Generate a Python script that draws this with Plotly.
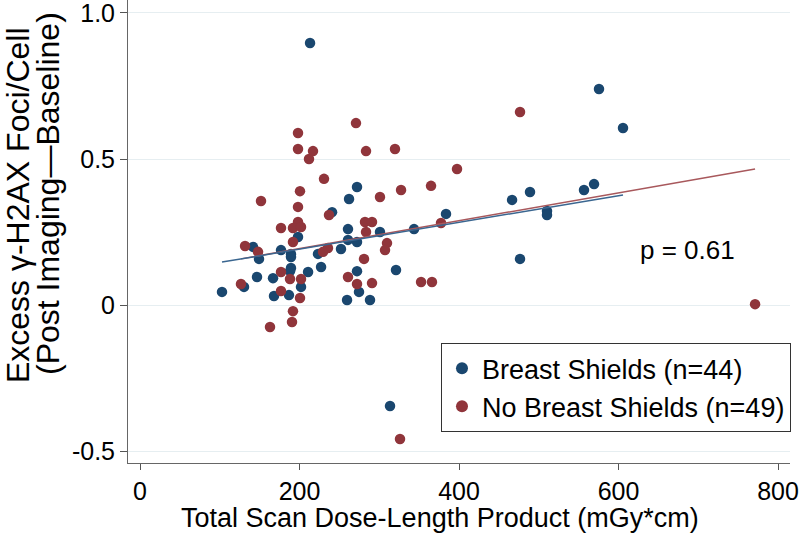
import plotly.graph_objects as go

# Breast Shields (n=44)
shield_dlp = [213.2, 575.5, 605.6, 466.5, 489.0, 556.7, 569.3, 510.3, 510.3, 383.7,
              476.5, 272.1, 262.1, 240.8, 260.8, 343.6, 300.9, 198.1, 260.8, 272.1,
              252.0, 141.7, 149.2, 176.8, 189.3, 189.3, 223.2, 227.0, 210.7, 189.3,
              188.1, 146.7, 166.8, 130.4, 201.9, 102.8, 168.0, 186.8, 259.6, 288.4,
              274.6, 272.1, 321.0, 313.5]
shield_foci = [0.897, 0.740, 0.606, 0.360, 0.387, 0.394, 0.414, 0.322, 0.308, 0.312,
               0.158, 0.404, 0.363, 0.318, 0.260, 0.260, 0.250, 0.233, 0.223, 0.216,
               0.192, 0.199, 0.158, 0.188, 0.175, 0.164, 0.175, 0.130, 0.113, 0.127,
               0.116, 0.096, 0.092, 0.062, 0.062, 0.045, 0.031, 0.034, 0.017, 0.017,
               0.045, 0.116, 0.120, -0.346]

# No Breast Shields (n=49)
noshield_dlp = [476.5, 397.5, 198.1, 198.1, 216.9, 211.9, 270.8, 283.4, 319.7, 230.7,
                300.9, 200.6, 151.7, 198.1, 327.3, 364.9, 237.0, 198.1, 176.8, 191.8,
                201.9, 282.1, 290.9, 283.4, 191.8, 377.4, 309.7, 307.2, 235.7, 229.5,
                131.7, 148.0, 176.8, 188.1, 201.9, 280.9, 260.8, 272.1, 290.9, 352.4,
                366.1, 126.6, 176.8, 200.6, 191.8, 190.6, 163.0, 771.2, 326.0]
noshield_foci = [0.661, 0.466, 0.589, 0.534, 0.527, 0.500, 0.623, 0.527, 0.534, 0.432,
                 0.370, 0.390, 0.356, 0.336, 0.394, 0.408, 0.308, 0.284, 0.264, 0.264,
                 0.267, 0.284, 0.284, 0.250, 0.216, 0.281, 0.212, 0.188, 0.195, 0.182,
                 0.202, 0.182, 0.113, 0.089, 0.089, 0.158, 0.096, 0.072, 0.075, 0.079,
                 0.079, 0.072, 0.048, 0.024, -0.021, -0.058, -0.075, 0.003, -0.459]

# Linear fit lines (end points)
fit_shield_x = [102.8, 605.6]
fit_shield_y = [0.147, 0.377]
fit_noshield_x = [126.6, 771.2]
fit_noshield_y = [0.158, 0.466]

x_ticks = [0, 200, 400, 600, 800]
y_ticks = [-0.5, 0, 0.5, 1.0]
y_tick_text = ["-0.5", "0", "0.5", "1.0"]

BLUE = "#1a476f"
RED = "#90353b"
FONT = "Liberation Sans, Arial, Helvetica, sans-serif"

fig = go.Figure()
fig.add_trace(go.Scatter(x=shield_dlp, y=shield_foci, mode="markers",
                         name="Breast Shields (n=44)",
                         marker=dict(color=BLUE, size=10.5, line=dict(width=0))))
fig.add_trace(go.Scatter(x=noshield_dlp, y=noshield_foci, mode="markers",
                         name="No Breast Shields (n=49)",
                         marker=dict(color=RED, size=10.5, line=dict(width=0))))
fig.add_trace(go.Scatter(x=fit_noshield_x, y=fit_noshield_y, mode="lines",
                         line=dict(color="#a8585c", width=1.5), showlegend=False,
                         hoverinfo="skip"))
fig.add_trace(go.Scatter(x=fit_shield_x, y=fit_shield_y, mode="lines",
                         line=dict(color="#3a6690", width=1.5), showlegend=False,
                         hoverinfo="skip"))

fig.update_layout(
    width=800, height=533,
    margin=dict(l=128, r=10, t=0, b=70),
    paper_bgcolor="white", plot_bgcolor="white",
    font=dict(family=FONT, size=25, color="black"),
    showlegend=True,
    legend=dict(x=1.0015, y=0.259, xanchor="right", yanchor="top",
                bgcolor="white", bordercolor="#333333", borderwidth=1,
                font=dict(size=27, family=FONT, color="black"),
                itemsizing="constant", tracegroupgap=0),
    xaxis=dict(range=[-15.05, 815.0], tickmode="array", tickvals=x_ticks,
               ticks="outside", ticklen=6, tickcolor="#555555", tickwidth=1,
               showline=True, linecolor="#666666", linewidth=1,
               showgrid=False, zeroline=False, ticklabeloverflow="allow",
               tickfont=dict(size=25, family=FONT, color="black")),
    yaxis=dict(range=[-0.541, 1.0445], tickmode="array", tickvals=y_ticks,
               ticktext=y_tick_text,
               ticks="outside", ticklen=7, tickcolor="#555555", tickwidth=1,
               showline=True, linecolor="#666666", linewidth=1,
               showgrid=True, gridcolor="#e6eef1", gridwidth=1, zeroline=False,
               ticklabeloverflow="allow",
               tickfont=dict(size=25, family=FONT, color="black")),
    annotations=[
        dict(text="Total Scan Dose-Length Product (mGy*cm)", xref="paper", yref="paper",
             x=0.4713, y=-0.119, xanchor="center", yanchor="middle", showarrow=False,
             font=dict(size=27, family=FONT, color="black")),
        dict(text="Excess \u03b3-H2AX Foci/Cell", xref="paper", yref="paper",
             x=-0.1662, y=0.557, xanchor="center", yanchor="middle", textangle=-90,
             showarrow=False, font=dict(size=32, family=FONT, color="black")),
        dict(text="(Post Imaging\u2014Baseline)", xref="paper", yref="paper",
             x=-0.1208, y=0.581, xanchor="center", yanchor="middle", textangle=-90,
             showarrow=False, font=dict(size=32, family=FONT, color="black")),
        dict(text="p = 0.61", xref="x", yref="y", x=687, y=0.188,
             xanchor="center", yanchor="middle", showarrow=False,
             font=dict(size=26, family=FONT, color="black")),
    ],
)

fig.write_html("out.html", config={"displayModeBar": False},
               post_script="document.body.style.margin='0';")
